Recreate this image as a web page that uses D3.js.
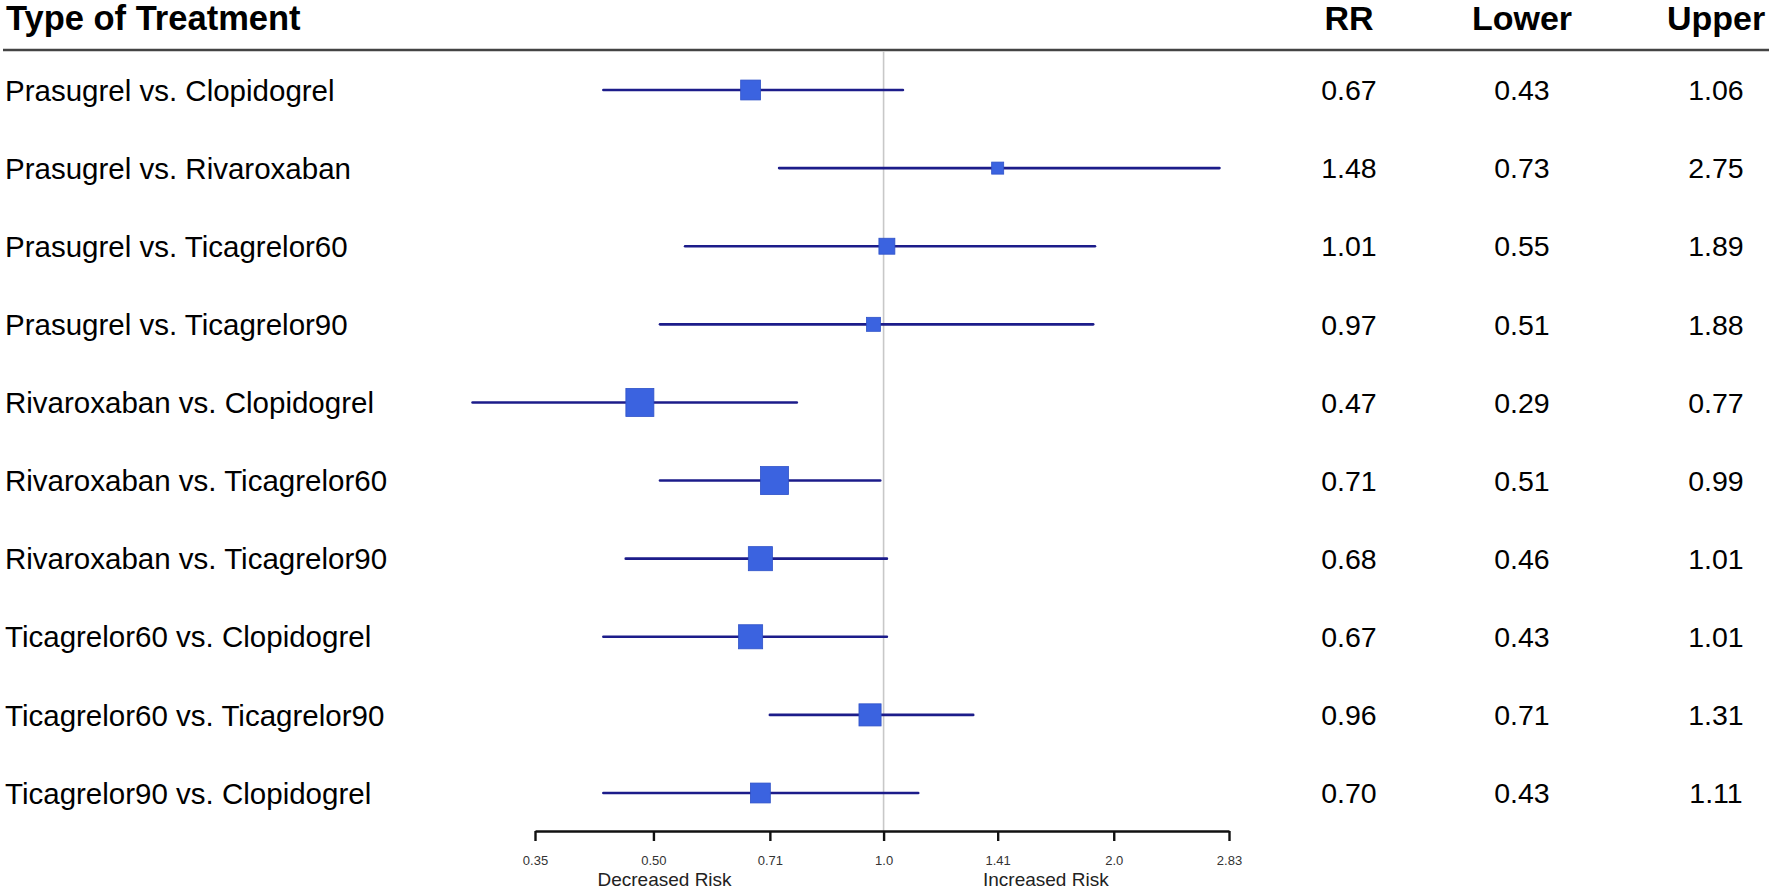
<!DOCTYPE html>
<html>
<head>
<meta charset="utf-8">
<script src="https://cdn.jsdelivr.net/npm/d3@7"></script>
<style>
  html, body { margin: 0; padding: 0; background: #fff; }
  svg { display: block; font-family: "Liberation Sans", Arial, sans-serif; }
</style>
</head>
<body>
<svg id="chart" width="1772" height="890"></svg>
<script>
// comparisons, top to bottom
const treatments = [
  'Prasugrel vs. Clopidogrel',
  'Prasugrel vs. Rivaroxaban',
  'Prasugrel vs. Ticagrelor60',
  'Prasugrel vs. Ticagrelor90',
  'Rivaroxaban vs. Clopidogrel',
  'Rivaroxaban vs. Ticagrelor60',
  'Rivaroxaban vs. Ticagrelor90',
  'Ticagrelor60 vs. Clopidogrel',
  'Ticagrelor60 vs. Ticagrelor90',
  'Ticagrelor90 vs. Clopidogrel'
];
const rr    = ['0.67', '1.48', '1.01', '0.97', '0.47', '0.71', '0.68', '0.67', '0.96', '0.70'];
const lower = ['0.43', '0.73', '0.55', '0.51', '0.29', '0.51', '0.46', '0.43', '0.71', '0.43'];
const upper = ['1.06', '2.75', '1.89', '1.88', '0.77', '0.99', '1.01', '1.01', '1.31', '1.11'];
// square positions as plotted
const estimate = [0.67, 1.41, 1.01, 0.97, 0.48, 0.72, 0.69, 0.67, 0.96, 0.69];
// relative box weights
const weights = [71, 43, 57, 50, 100, 100, 86, 86, 79, 71];
const tickValues = [0.35, 0.50, 0.71, 1.0, 1.41, 2.0, 2.83];
const tickLabels = ['0.35', '0.50', '0.71', '1.0', '1.41', '2.0', '2.83'];

const svg = d3.select('#chart');

const x = d3.scaleLog().domain([0.35, 2.83]).range([535, 1229]);
const y = d3.scalePoint().domain(treatments).range([90, 793]);
const box = d3.scaleLinear().domain([0, 100]).range([0, 28]);

const axisY = 831;
const headerY = 18;
const cols = [
  { title: 'RR', x: 1349, values: rr },
  { title: 'Lower', x: 1522, values: lower },
  { title: 'Upper', x: 1716, values: upper }
];

// header
svg.append('text')
  .attr('x', 6).attr('y', headerY)
  .attr('dy', '0.36em')
  .attr('font-size', 34.5).attr('font-weight', 'bold')
  .text('Type of Treatment');

svg.selectAll('.colhead')
  .data(cols)
  .join('text')
  .attr('class', 'colhead')
  .attr('x', d => d.x).attr('y', headerY)
  .attr('dy', '0.36em')
  .attr('text-anchor', 'middle')
  .attr('font-size', 34).attr('font-weight', 'bold')
  .text(d => d.title);

svg.append('line')
  .attr('x1', 3).attr('x2', 1769)
  .attr('y1', 50).attr('y2', 50)
  .attr('stroke', '#444').attr('stroke-width', 2.5);

// reference line at 1
svg.append('line')
  .attr('x1', x(1)).attr('x2', x(1))
  .attr('y1', 51).attr('y2', axisY)
  .attr('stroke', '#c8c8c8').attr('stroke-width', 1.6);

// row labels
svg.selectAll('.label')
  .data(treatments)
  .join('text')
  .attr('class', 'label')
  .attr('x', 5).attr('y', d => y(d))
  .attr('dy', '0.36em')
  .attr('font-size', 29.5)
  .attr('fill', '#000')
  .text(d => d);

// value columns
cols.forEach(c => {
  svg.selectAll(null)
    .data(c.values)
    .join('text')
    .attr('x', c.x).attr('y', (d, i) => y(treatments[i]))
    .attr('dy', '0.36em')
    .attr('text-anchor', 'middle')
    .attr('font-size', 28.5)
    .attr('fill', '#000')
    .text(d => d);
});

// confidence intervals
svg.selectAll('.ci')
  .data(treatments)
  .join('line')
  .attr('class', 'ci')
  .attr('x1', (d, i) => x(+lower[i]))
  .attr('x2', (d, i) => x(+upper[i]))
  .attr('y1', d => y(d)).attr('y2', d => y(d))
  .attr('stroke', '#1c1c8a').attr('stroke-width', 2.6)
  .attr('stroke-linecap', 'round');

// boxes
svg.selectAll('.box')
  .data(treatments)
  .join('rect')
  .attr('class', 'box')
  .attr('x', (d, i) => x(estimate[i]) - box(weights[i]) / 2)
  .attr('y', (d, i) => y(d) - box(weights[i]) / 2)
  .attr('width', (d, i) => box(weights[i]))
  .attr('height', (d, i) => box(weights[i]))
  .attr('fill', '#3b63e0')
  .attr('stroke', '#2f52c8').attr('stroke-width', 0.8);

// x axis
const axis = d3.axisBottom(x)
  .tickValues(tickValues)
  .tickFormat((d, i) => tickLabels[i])
  .tickSize(10)
  .tickSizeOuter(0);

const gAxis = svg.append('g')
  .attr('transform', `translate(0,${axisY})`)
  .call(axis);
gAxis.select('.domain').attr('stroke', '#111').attr('stroke-width', 2.4);
gAxis.selectAll('.tick line').attr('stroke', '#111').attr('stroke-width', 2.4);
gAxis.selectAll('.tick text')
  .attr('font-size', 13)
  .attr('font-family', '"Liberation Sans Narrow", "Liberation Sans", sans-serif')
  .attr('fill', '#333')
  .attr('y', 25);

svg.append('text')
  .attr('x', x(0.517)).attr('y', 879)
  .attr('dy', '0.36em').attr('text-anchor', 'middle')
  .attr('font-size', 19).attr('fill', '#222')
  .text('Decreased Risk');

svg.append('text')
  .attr('x', x(1.63)).attr('y', 879)
  .attr('dy', '0.36em').attr('text-anchor', 'middle')
  .attr('font-size', 19).attr('fill', '#222')
  .text('Increased Risk');
</script>
</body>
</html>
